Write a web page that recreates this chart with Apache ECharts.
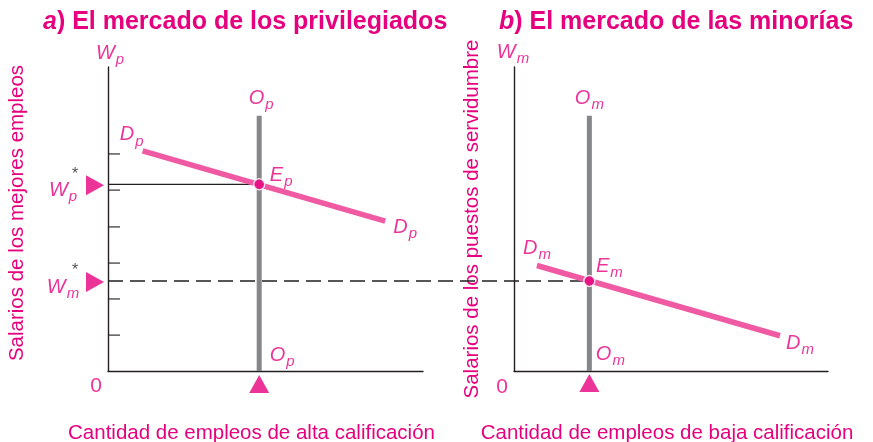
<!DOCTYPE html>
<html>
<head>
<meta charset="utf-8">
<script src="https://cdn.jsdelivr.net/npm/echarts@6/dist/echarts.min.js"></script>
<style>
  html, body { margin: 0; background: #fff; }
  #chart { width: 873px; height: 442px; }
</style>
</head>
<body>
<div id="chart"></div>
<script>
"use strict";
const PINK = "#e6007e";
const DEMAND = "#ef5aa3";
const GRAY = "#858689";
const INK = "#231f20";
const FONT = "Liberation Sans";

// panel a: privileged market (x: quantity 0-100, y: wage 0-100)
const privDemand = [[11, 72.4], [88, 49.3]];
const privSupply = [[48, 0], [48, 84]];
const privEquil = [48, 61.4];
const wageTicks = [11.8, 23.7, 35.5, 47.4, 59.5, 71.4];

// panel b: minority market
const minDemand = [[7.3, 34.7], [84.7, 11.6]];
const minSupply = [[24, 0], [24, 84]];
const minEquil = [24, 29.6];

const titleA = ["a", ") El mercado de los privilegiados"];
const titleB = ["b", ") El mercado de las minorías"];
const yNames = ["Salarios de los mejores empleos", "Salarios de los puestos de servidumbre"];
const xNames = ["Cantidad de empleos de alta calificación", "Cantidad de empleos de baja calificación"];

// grid boxes in px
const GA = { left: 108, top: 67, width: 315, height: 304 };
const GB = { left: 514, top: 67, width: 314, height: 304 };
// a hidden grid across both panels, only for the W*m dashed line
const GC = { left: GA.left, top: GA.top, width: GB.left + GB.width - GA.left, height: GA.height };

// minority equilibrium x expressed in the shared grid's units
const crossX = (GB.left + minEquil[0] / 100 * GB.width - GC.left) / GC.width * 100;

const sym = (m, s) => `{m|${m}}{s|${s}}`;

const rich = {
  m: { fontFamily: FONT, fontStyle: "italic", fontSize: 20, lineHeight: 22, color: PINK, verticalAlign: "top" },
  s: { fontFamily: FONT, fontStyle: "italic", fontSize: 15, lineHeight: 15, color: PINK, padding: [9, 0, 0, 1], verticalAlign: "top" },
  n: { fontFamily: FONT, fontSize: 21, color: PINK },
  st: { fontFamily: FONT, fontSize: 16, color: INK },
};

function note(value, text, offset) {
  return {
    value,
    label: { show: true, position: "inside", offset, formatter: text, rich },
  };
}

function notesSeries(idx, data) {
  return {
    type: "scatter",
    xAxisIndex: idx,
    yAxisIndex: idx,
    symbolSize: 0,
    silent: true,
    clip: false,
    z: 10,
    data,
  };
}

function line(idx, data, color, width, extra) {
  return Object.assign({
    type: "line",
    xAxisIndex: idx,
    yAxisIndex: idx,
    data,
    symbol: "none",
    silent: true,
    lineStyle: { color, width, cap: "butt" },
  }, extra || {});
}

function markers(idx, data, rotate, offset) {
  return {
    type: "scatter",
    xAxisIndex: idx,
    yAxisIndex: idx,
    data,
    symbol: "triangle",
    symbolSize: [20, 18],
    symbolRotate: rotate,
    symbolOffset: offset,
    itemStyle: { color: PINK },
    clip: false,
    silent: true,
    z: 6,
  };
}

function dot(idx, p) {
  return {
    type: "scatter",
    xAxisIndex: idx,
    yAxisIndex: idx,
    data: [p],
    symbolSize: 11,
    itemStyle: { color: PINK, borderColor: "#fff", borderWidth: 1.5 },
    silent: true,
    z: 8,
  };
}

const axisBase = {
  type: "value",
  min: 0,
  max: 100,
  axisLine: { show: true, lineStyle: { color: INK, width: 1.4 } },
  axisTick: { show: false },
  axisLabel: { show: false },
  splitLine: { show: false },
};
const hiddenAxis = Object.assign({}, axisBase, { gridIndex: 2, axisLine: { show: false } });

const titleStyle = {
  fontFamily: FONT, fontSize: 25, fontWeight: "bold", color: PINK,
  rich: { it: { fontFamily: FONT, fontSize: 25, fontWeight: "bold", fontStyle: "italic", color: PINK } },
};

const chart = echarts.init(document.getElementById("chart"));

chart.setOption({
  animation: false,
  backgroundColor: "#fff",
  title: [
    { text: `{it|${titleA[0]}}${titleA[1]}`, left: 38, top: 5, textStyle: titleStyle },
    { text: `{it|${titleB[0]}}${titleB[1]}`, left: 494, top: 5, textStyle: titleStyle },
  ],
  grid: [GA, GB, GC].map((g) => Object.assign({ outerBoundsMode: "none", containLabel: false }, g)),
  xAxis: [
    Object.assign({}, axisBase, {
      gridIndex: 0,
      name: xNames[0], nameLocation: "middle", nameGap: 52,
      nameTextStyle: { fontFamily: FONT, fontSize: 20.5, color: PINK, padding: [0, 28, 0, 0] },
    }),
    Object.assign({}, axisBase, {
      gridIndex: 1,
      name: xNames[1], nameLocation: "middle", nameGap: 52,
      nameTextStyle: { fontFamily: FONT, fontSize: 20.5, color: PINK, padding: [0, 8, 0, 0] },
    }),
    hiddenAxis,
  ],
  yAxis: [
    Object.assign({}, axisBase, {
      gridIndex: 0,
      name: yNames[0], nameLocation: "middle", nameGap: 80, nameRotate: 90,
      nameTextStyle: { fontFamily: FONT, fontSize: 20.5, color: PINK, padding: [0, 0, 0, 12] },
    }),
    Object.assign({}, axisBase, {
      gridIndex: 1,
      name: yNames[1], nameLocation: "middle", nameGap: 31, nameRotate: 90,
      nameTextStyle: { fontFamily: FONT, fontSize: 20.5, color: PINK },
    }),
    hiddenAxis,
  ],
  series: [
    // W*m dashed line, running across both panels
    line(2, [[0, minEquil[1]], [crossX, minEquil[1]]], INK, 1.5, {
      z: 2,
      lineStyle: { color: INK, width: 1.5, type: [15, 7] },
    }),

    // panel a
    line(0, [[0, privEquil[1]], privEquil], INK, 1.3, { z: 2 }),
    {
      type: "scatter",
      xAxisIndex: 0, yAxisIndex: 0,
      data: wageTicks.map((v) => [0, v]),
      symbol: "rect",
      symbolSize: [12, 1.4],
      symbolOffset: [6, 0],
      itemStyle: { color: INK },
      silent: true,
      z: 3,
    },
    line(0, privSupply, GRAY, 5, { z: 3 }),
    line(0, privDemand, DEMAND, 5.5, { z: 4 }),
    dot(0, privEquil),
    markers(0, [[0, privEquil[1]], [0, minEquil[1]]], -90, [-13, 1]),
    markers(0, [[privSupply[0][0], 0]], 0, [0, 13]),
    notesSeries(0, [
      note([0, 100], sym("W", "p"), [2, -13]),
      note(privSupply[1], sym("O", "p"), [2, -16]),
      note(privDemand[0], sym("D", "p"), [-11, -15]),
      note(privEquil, sym("E", "p"), [22, -8]),
      note(privDemand[1], sym("D", "p"), [20, 7]),
      note(privSupply[0], sym("O", "p"), [23, -15]),
      note([0, 0], "{n|0}", [-12, 15]),
      note([0, privEquil[1]], sym("W", "p"), [-45, 7]),
      note([0, privEquil[1]], "{st|*}", [-33, -10]),
      note([0, minEquil[1]], sym("W", "m"), [-45, 7]),
      note([0, minEquil[1]], "{st|*}", [-33, -10]),
    ]),

    // panel b
    line(1, minSupply, GRAY, 5, { z: 3 }),
    line(1, minDemand, DEMAND, 5.5, { z: 4 }),
    dot(1, minEquil),
    markers(1, [[minSupply[0][0], 0]], 0, [0, 12]),
    notesSeries(1, [
      note([0, 100], sym("W", "m"), [-1, -14]),
      note(minSupply[1], sym("O", "m"), [0, -16]),
      note(minDemand[0], sym("D", "m"), [0, -16]),
      note(minEquil, sym("E", "m"), [20, -14]),
      note(minDemand[1], sym("D", "m"), [20, 9]),
      note(minSupply[0], sym("O", "m"), [21, -16]),
      note([0, 0], "{n|0}", [-12, 16]),
    ]),
  ],
});
</script>
</body>
</html>
